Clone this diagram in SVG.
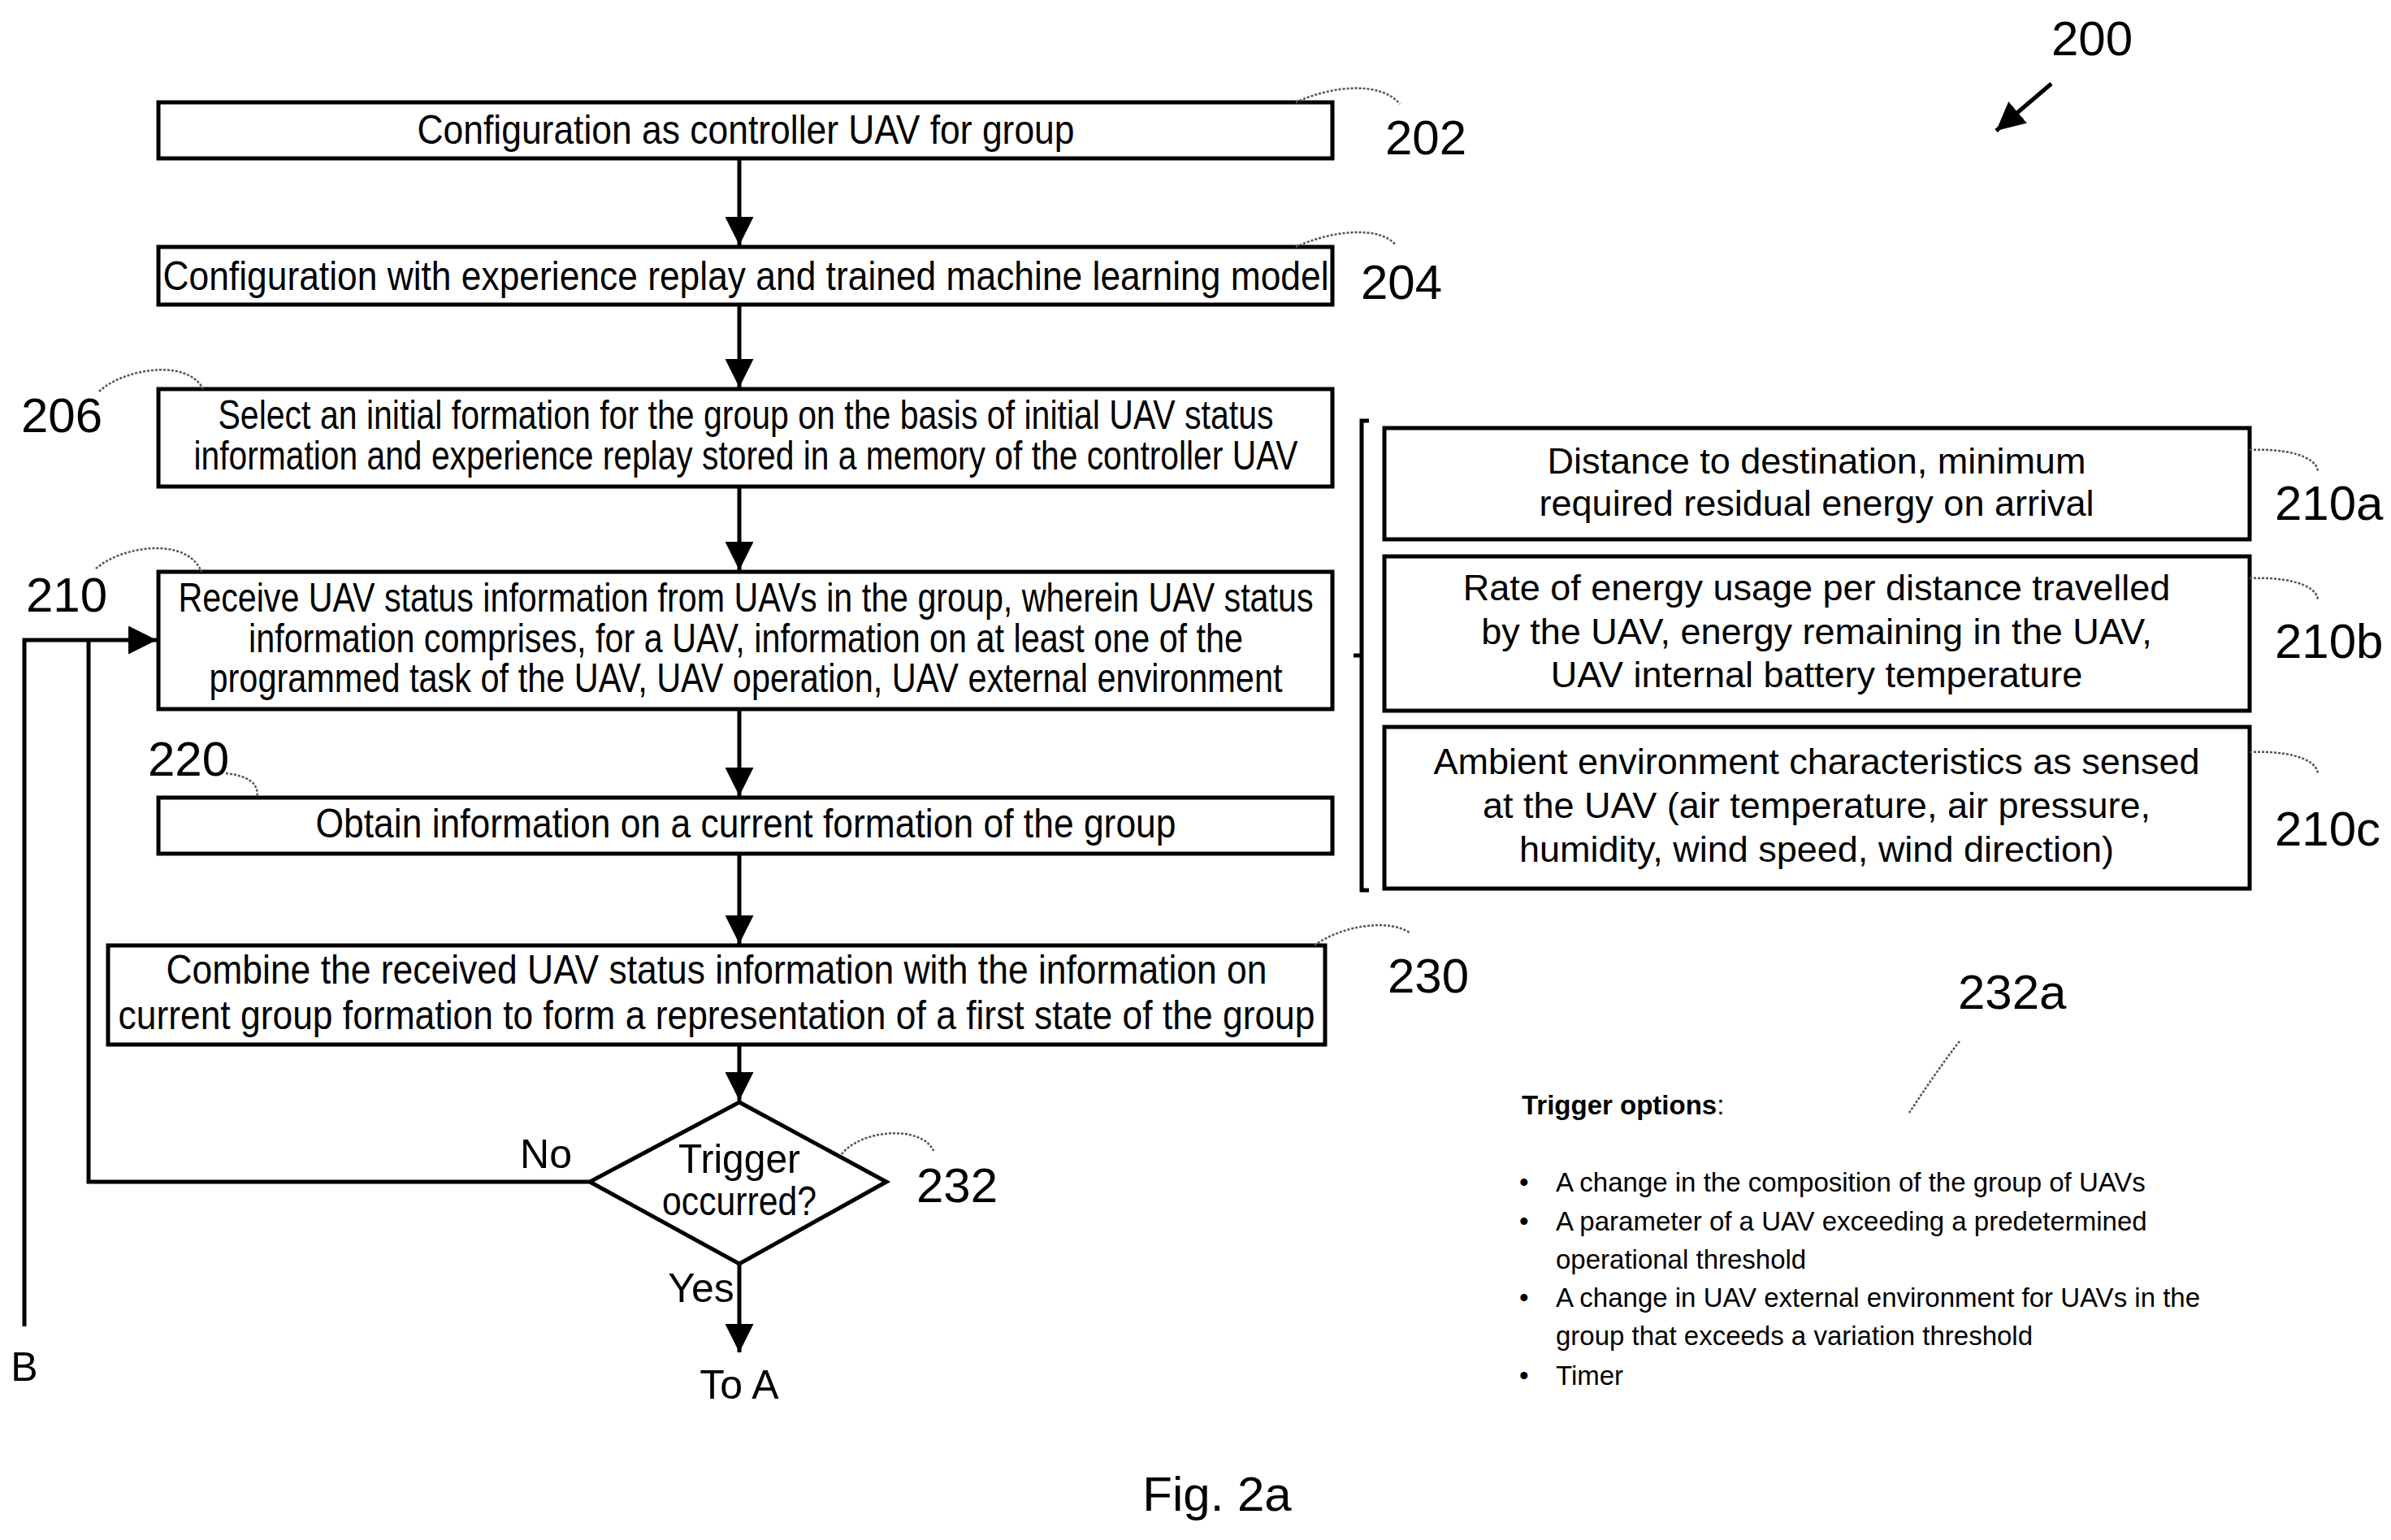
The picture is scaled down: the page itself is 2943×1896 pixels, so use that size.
<svg xmlns="http://www.w3.org/2000/svg" width="2943" height="1896" viewBox="0 0 2943 1896">
<defs>
<style>
.box{fill:#fff;stroke:#000;stroke-width:5}
.t{font-family:"Liberation Sans",Arial,sans-serif;font-size:50px;text-anchor:middle;fill:#000}
.r{font-family:"Liberation Sans",Arial,sans-serif;font-size:45px;text-anchor:middle;fill:#000}
.lbl{font-family:"Liberation Sans",Arial,sans-serif;font-size:60px;fill:#000}
.opt{font-family:"Liberation Sans",Arial,sans-serif;font-size:33px;fill:#000}
.ln{fill:none;stroke:#000;stroke-width:5}
.sq{fill:none;stroke:#555;stroke-width:2.5;stroke-dasharray:3 2}
</style>
<marker id="ah" viewBox="0 0 10 10" refX="10" refY="5" markerWidth="7" markerHeight="7" markerUnits="strokeWidth" orient="auto"><path d="M0,0 L10,5 L0,10 z" fill="#000"/></marker>
</defs>
<rect width="2943" height="1896" fill="#fff"/>
<g id="n202"><rect class="box" x="195" y="126" width="1445" height="69"/><text class="t" x="918" y="177" textLength="809" lengthAdjust="spacingAndGlyphs">Configuration as controller UAV for group</text><text class="lbl" x="1705" y="190">202</text><path class="sq" d="M1595,126 C1640,105 1700,100 1723,128"/></g>
<g id="n204"><rect class="box" x="195" y="304" width="1445" height="71"/><text class="t" x="918" y="357" textLength="1435" lengthAdjust="spacingAndGlyphs">Configuration with experience replay and trained machine learning model</text><text class="lbl" x="1675" y="368">204</text><path class="sq" d="M1595,304 C1640,283 1700,278 1718,302"/></g>
<g id="n206"><rect class="box" x="195" y="479" width="1445" height="120"/><text class="t" x="918" y="528" textLength="1299" lengthAdjust="spacingAndGlyphs">Select an initial formation for the group on the basis of initial UAV status</text><text class="t" x="918" y="578" textLength="1359" lengthAdjust="spacingAndGlyphs">information and experience replay stored in a memory of the controller UAV</text><text class="lbl" x="26" y="532">206</text><path class="sq" d="M122,482 C150,455 230,440 250,479"/></g>
<g id="n210"><rect class="box" x="195" y="704" width="1445" height="169"/><text class="t" x="918" y="753" textLength="1397" lengthAdjust="spacingAndGlyphs">Receive UAV status information from UAVs in the group, wherein UAV status</text><text class="t" x="918" y="803" textLength="1224" lengthAdjust="spacingAndGlyphs">information comprises, for a UAV, information on at least one of the</text><text class="t" x="918" y="852" textLength="1321" lengthAdjust="spacingAndGlyphs">programmed task of the UAV, UAV operation, UAV external environment</text><text class="lbl" x="32" y="753">210</text><path class="sq" d="M118,700 C150,672 230,660 248,704"/></g>
<g id="n220"><rect class="box" x="195" y="982" width="1445" height="69"/><text class="t" x="918" y="1031" textLength="1059" lengthAdjust="spacingAndGlyphs">Obtain information on a current formation of the group</text><text class="lbl" x="182" y="955">220</text><path class="sq" d="M278,952 C305,955 320,965 316,982"/></g>
<g id="n230"><rect class="box" x="133" y="1164" width="1498" height="122"/><text class="t" x="882" y="1211" textLength="1355" lengthAdjust="spacingAndGlyphs">Combine the received UAV status information with the information on</text><text class="t" x="882" y="1267" textLength="1473" lengthAdjust="spacingAndGlyphs">current group formation to form a representation of a first state of the group</text><text class="lbl" x="1708" y="1222">230</text><path class="sq" d="M1618,1164 C1650,1140 1710,1130 1736,1149"/></g>
<g id="n232"><polygon class="box" points="910,1357 1091,1455 910,1556 726,1455"/><text class="t" x="910" y="1444" textLength="150" lengthAdjust="spacingAndGlyphs">Trigger</text><text class="t" x="910" y="1496" textLength="190" lengthAdjust="spacingAndGlyphs">occurred?</text><text class="lbl" x="1128" y="1480">232</text><path class="sq" d="M1036,1421 C1060,1390 1135,1385 1149,1417"/></g>
<g id="n210a"><rect class="box" x="1704" y="527" width="1065" height="137"/><text class="r" x="2236" y="583">Distance to destination, minimum</text><text class="r" x="2236" y="635">required residual energy on arrival</text><text class="lbl" x="2800" y="640" font-size="56">210a</text><path class="sq" d="M2769,554 C2810,552 2850,560 2853,580"/></g>
<g id="n210b"><rect class="box" x="1704" y="685" width="1065" height="190"/><text class="r" x="2236" y="739">Rate of energy usage per distance travelled</text><text class="r" x="2236" y="793">by the UAV, energy remaining in the UAV,</text><text class="r" x="2236" y="846">UAV internal battery temperature</text><text class="lbl" x="2800" y="810" font-size="56">210b</text><path class="sq" d="M2769,712 C2810,710 2850,718 2853,738"/></g>
<g id="n210c"><rect class="box" x="1704" y="895" width="1065" height="199"/><text class="r" x="2236" y="953">Ambient environment characteristics as sensed</text><text class="r" x="2236" y="1007">at the UAV (air temperature, air pressure,</text><text class="r" x="2236" y="1061">humidity, wind speed, wind direction)</text><text class="lbl" x="2800" y="1041" font-size="56">210c</text><path class="sq" d="M2769,926 C2810,924 2850,932 2853,952"/></g>
<g id="n232a"><text class="lbl" x="2410" y="1242">232a</text><path class="sq" d="M2412,1282 C2390,1310 2370,1340 2350,1370" stroke="#333"/><text class="opt" x="1873" y="1372" font-weight="bold">Trigger options<tspan font-weight="normal">:</tspan></text>
<text class="opt" x="1870" y="1467">•</text><text class="opt" x="1915" y="1467">A change in the composition of the group of UAVs</text>
<text class="opt" x="1870" y="1515">•</text><text class="opt" x="1915" y="1515">A parameter of a UAV exceeding a predetermined</text>
<text class="opt" x="1915" y="1562">operational threshold</text>
<text class="opt" x="1870" y="1609">•</text><text class="opt" x="1915" y="1609">A change in UAV external environment for UAVs in the</text>
<text class="opt" x="1915" y="1656">group that exceeds a variation threshold</text>
<text class="opt" x="1870" y="1705">•</text><text class="opt" x="1915" y="1705">Timer</text></g>
<g id="fig"><text class="lbl" x="2575" y="68" text-anchor="middle">200</text><text class="lbl" x="1498" y="1860" font-size="75" text-anchor="middle">Fig. 2a</text></g>
<g id="connectors">
<line class="ln" x1="910" y1="195" x2="910" y2="302" marker-end="url(#ah)"/>
<line class="ln" x1="910" y1="375" x2="910" y2="477" marker-end="url(#ah)"/>
<line class="ln" x1="910" y1="599" x2="910" y2="702" marker-end="url(#ah)"/>
<line class="ln" x1="910" y1="873" x2="910" y2="980" marker-end="url(#ah)"/>
<line class="ln" x1="910" y1="1051" x2="910" y2="1162" marker-end="url(#ah)"/>
<line class="ln" x1="910" y1="1286" x2="910" y2="1355" marker-end="url(#ah)"/>
<line class="ln" x1="910" y1="1556" x2="910" y2="1665" marker-end="url(#ah)"/>
<polyline class="ln" points="726,1455 109,1455 109,788"/>
<polyline class="ln" points="30,1633 30,788 193,788" marker-end="url(#ah)"/>
<polyline class="ln" points="1685,518 1676,518 1676,1096 1685,1096"/>
<line class="ln" x1="1676" y1="807" x2="1666" y2="807"/>
<line class="ln" x1="2525" y1="103" x2="2457" y2="161" marker-end="url(#ah)"/>
<text class="t" x="672" y="1438">No</text>
<text class="t" x="863" y="1603">Yes</text>
<text class="t" x="910" y="1722">To A</text>
<text class="t" x="30" y="1700">B</text>
</g>
</svg>
